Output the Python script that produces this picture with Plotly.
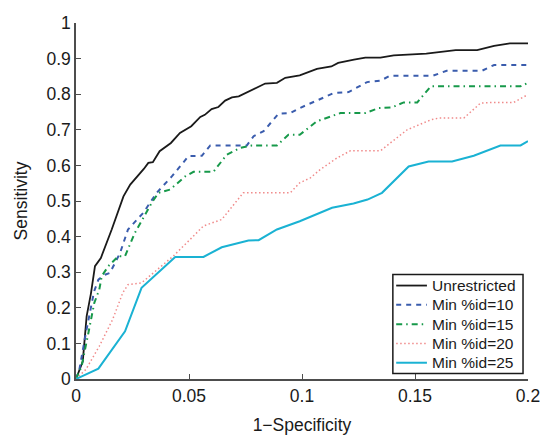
import plotly.graph_objects as go

# ROC curves: sensitivity against 1-specificity for several %id cut-offs
x_unres = [0, 0.003, 0.0047, 0.0066, 0.0084, 0.011, 0.0158, 0.021, 0.024, 0.026, 0.030, 0.032,
           0.034, 0.037, 0.042, 0.046, 0.051, 0.055, 0.057, 0.060, 0.063, 0.066, 0.069, 0.072,
           0.0786, 0.0837, 0.0889, 0.0926, 0.099, 0.1066, 0.113, 0.116, 0.123, 0.128, 0.1347,
           0.1406, 0.155, 0.168, 0.1775, 0.185, 0.192, 0.2]
y_unres = [0, 0.05, 0.176, 0.24, 0.317, 0.34, 0.42, 0.513, 0.546, 0.56, 0.59, 0.607,
           0.609, 0.64, 0.663, 0.691, 0.71, 0.736, 0.742, 0.758, 0.764, 0.782, 0.791, 0.794,
           0.813, 0.83, 0.832, 0.846, 0.853, 0.871, 0.878, 0.888, 0.897, 0.903, 0.903,
           0.909, 0.914, 0.924, 0.924, 0.936, 0.943, 0.943]

x_id10 = [0, 0.0015, 0.0044, 0.0066, 0.008, 0.0099, 0.0128, 0.015, 0.0195, 0.023, 0.0298,
          0.0357, 0.0424, 0.0498, 0.0557, 0.0594, 0.0756, 0.0786, 0.083, 0.0896, 0.0948, 0.099,
          0.108, 0.114, 0.1206, 0.1288, 0.1347, 0.139, 0.158, 0.164, 0.1797, 0.185, 0.2]
y_id10 = [0, 0.027, 0.13, 0.204, 0.246, 0.279, 0.293, 0.298, 0.354, 0.42, 0.467,
          0.523, 0.569, 0.626, 0.627, 0.656, 0.656, 0.682, 0.696, 0.745, 0.747, 0.761,
          0.787, 0.803, 0.806, 0.834, 0.838, 0.852, 0.852, 0.866, 0.866, 0.882, 0.882]

x_id15 = [0, 0.0025, 0.0055, 0.0081, 0.0103, 0.0114, 0.0143, 0.0187, 0.0217, 0.026, 0.0335,
          0.0365, 0.0416, 0.0483, 0.052, 0.0608, 0.0667, 0.0726, 0.0778, 0.0889, 0.094, 0.099,
          0.1066, 0.117, 0.128, 0.134, 0.1398, 0.145, 0.151, 0.157, 0.1967, 0.2]
y_id15 = [0, 0.036, 0.13, 0.214, 0.251, 0.289, 0.317, 0.345, 0.345, 0.41, 0.495,
          0.523, 0.532, 0.569, 0.582, 0.582, 0.63, 0.649, 0.656, 0.656, 0.686, 0.686,
          0.724, 0.747, 0.747, 0.761, 0.763, 0.777, 0.777, 0.822, 0.822, 0.832]

x_id20 = [0, 0.0044, 0.0103, 0.0162, 0.0207, 0.023, 0.029, 0.0357, 0.043, 0.0505, 0.0564,
          0.0645, 0.074, 0.0948, 0.099, 0.1037, 0.108, 0.1155, 0.1214, 0.1347, 0.139, 0.1465,
          0.157, 0.1605, 0.1716, 0.179, 0.185, 0.1937, 0.2]
y_id20 = [0, 0.027, 0.092, 0.167, 0.242, 0.265, 0.27, 0.307, 0.345, 0.392, 0.43,
          0.448, 0.523, 0.523, 0.551, 0.565, 0.588, 0.621, 0.641, 0.641, 0.663, 0.7,
          0.728, 0.733, 0.733, 0.775, 0.777, 0.777, 0.799]

x_id25 = [0, 0.0099, 0.0217, 0.029, 0.0439, 0.0564, 0.0645, 0.0763, 0.0808, 0.0889, 0.099,
          0.1133, 0.1228, 0.129, 0.1354, 0.1472, 0.156, 0.1664, 0.176, 0.1878, 0.1967, 0.2]
y_id25 = [0, 0.029, 0.134, 0.256, 0.343, 0.343, 0.37, 0.389, 0.39, 0.42, 0.443,
          0.481, 0.493, 0.504, 0.523, 0.597, 0.611, 0.611, 0.627, 0.656, 0.656, 0.668]

series_names = ["Unrestricted", "Min %id=10", "Min %id=15", "Min %id=20", "Min %id=25"]

x_ticks = [0, 0.05, 0.1, 0.15, 0.2]
x_tick_labels = ["0", "0.05", "0.1", "0.15", "0.2"]
y_ticks = [0, 0.1, 0.2, 0.3, 0.4, 0.5, 0.6, 0.7, 0.8, 0.9, 1]
y_tick_labels = ["0", "0.1", "0.2", "0.3", "0.4", "0.5", "0.6", "0.7", "0.8", "0.9", "1"]

styles = [
    dict(color="#1a1a1a", width=1.8, dash="solid"),
    dict(color="#3a5cad", width=2, dash="5px,5px"),
    dict(color="#17994a", width=2, dash="6px,4px,1.5px,4px"),
    dict(color="#f08a8a", width=1.5, dash="1.5px,2.5px"),
    dict(color="#1ab2d3", width=2, dash="solid"),
]

xs = [x_unres, x_id10, x_id15, x_id20, x_id25]
ys = [y_unres, y_id10, y_id15, y_id20, y_id25]

fig = go.Figure()
for name, x, y, st in zip(series_names, xs, ys, styles):
    fig.add_trace(go.Scatter(x=x, y=y, mode="lines", name=name, line=st, showlegend=False))

font_family = "Liberation Sans, Arial, sans-serif"
axis_common = dict(
    showline=True, linecolor="#4d4d4d", linewidth=1.5,
    ticks="inside", ticklen=5, tickwidth=1.2, tickcolor="#4d4d4d",
    showgrid=False, zeroline=False, mirror=False, automargin=False,
    tickfont=dict(family=font_family, size=17.5, color="#1a1a1a"),
)

# Boxed legend in the lower-right corner of the axes (paper coordinates)
box_x0, box_x1 = 0.701, 0.989
box_y0, box_y1 = 0.0154, 0.2934
row_top, row_step = 0.2625, 0.0542
sample_x0, sample_x1, label_x = 0.7084, 0.7764, 0.7837

shapes = [dict(type="rect", xref="paper", yref="paper",
               x0=box_x0, x1=box_x1, y0=box_y0, y1=box_y1,
               line=dict(color="#1a1a1a", width=1.5), fillcolor="white", layer="above")]
annotations = []
for i, (name, st) in enumerate(zip(series_names, styles)):
    yy = row_top - i * row_step
    shapes.append(dict(type="line", xref="paper", yref="paper",
                       x0=sample_x0, x1=sample_x1, y0=yy, y1=yy,
                       line=dict(color=st["color"], width=st["width"], dash=st["dash"]),
                       layer="above"))
    annotations.append(dict(xref="paper", yref="paper", x=label_x, y=yy,
                            xanchor="left", yanchor="middle", showarrow=False,
                            text=name, font=dict(family=font_family, size=15.5, color="#1a1a1a")))

fig.update_layout(
    width=543, height=435,
    margin=dict(l=76, r=15.3, t=23.3, b=55.5),
    paper_bgcolor="white", plot_bgcolor="white",
    font=dict(family=font_family, color="#1a1a1a"),
    xaxis=dict(range=[0, 0.2], tickvals=x_ticks, ticktext=x_tick_labels,
               title=dict(text="1\u2212Specificity", font=dict(size=17.5), standoff=14),
               **axis_common),
    yaxis=dict(range=[0, 1], tickvals=y_ticks, ticktext=y_tick_labels,
               title=dict(text="Sensitivity", font=dict(size=17.5), standoff=14),
               **axis_common),
    shapes=shapes,
    annotations=annotations,
    showlegend=False,
)

fig.write_html("out.html")
